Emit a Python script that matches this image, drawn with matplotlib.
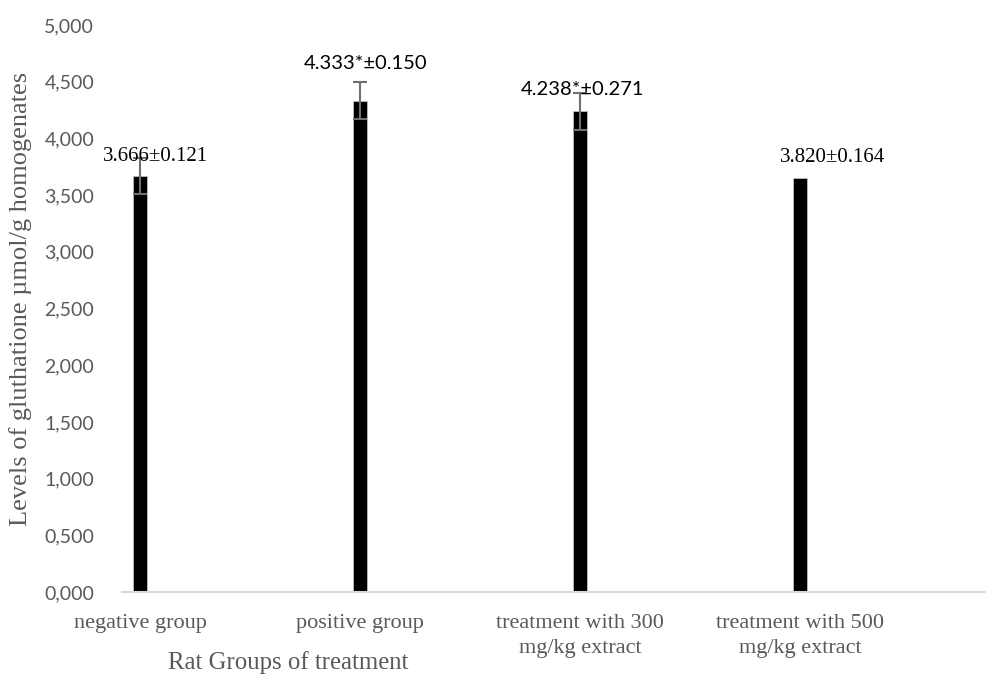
import matplotlib.pyplot as plt

# groups and readings
groups = ["negative group", "positive group",
          "treatment with 300\nmg/kg extract", "treatment with 500\nmg/kg extract"]
means = [3.666, 4.333, 4.238, 3.650]
errors = [0.16, 0.16, 0.165, 0.0]
labels = ["3.666\u00b10.121", "4.333*\u00b10.150", "4.238*\u00b10.271", "3.820\u00b10.164"]
yticks = [0.0, 0.5, 1.0, 1.5, 2.0, 2.5, 3.0, 3.5, 4.0, 4.5, 5.0]

fig = plt.figure(figsize=(9.87, 6.75), dpi=100)
ax = fig.add_axes([0.1236, 0.123, 0.8744, 0.84])

x = list(range(len(groups)))
ax.bar(x, means, width=0.064, color="black", edgecolor="#bfbfbf", linewidth=0.6, zorder=2)
ax.errorbar(x[:3], means[:3], yerr=errors[:3], fmt="none", ecolor="#707070",
            elinewidth=1.5, capsize=5, capthick=1.5, zorder=3)

# data labels: offsets in pixels, fonts as in the original
label_style = [
    (15, 20, "Liberation Serif", 15),
    (5, 37, "Lato", 14.5),
    (2, 22, "Lato", 14.5),
    (32, 21, "Liberation Serif", 15),
]
for i, (dx, dy, fam, sz) in enumerate(label_style):
    ax.annotate(labels[i], (x[i], means[i]), xytext=(dx, dy),
                textcoords="offset pixels", ha="center", va="center",
                fontfamily=fam, fontsize=sz, color="black")

ax.set_xlim(-0.082, 3.84)
ax.set_ylim(0, 5.0)
ax.set_yticks(yticks)
ax.set_yticklabels([f"{v:.3f}".replace(".", ",") for v in yticks],
                   fontfamily="Lato", fontsize=14, color="#595959")
ax.set_xticks(x)
ax.set_xticklabels(groups, fontfamily="Liberation Serif", fontsize=16,
                   color="#595959", linespacing=1.45, va="top")
ax.tick_params(axis="both", length=0)
ax.tick_params(axis="x", pad=16)
ax.tick_params(axis="y", pad=20)

for s in ["top", "right", "left"]:
    ax.spines[s].set_visible(False)
ax.spines["bottom"].set_color("#d9d9d9")
ax.spines["bottom"].set_linewidth(1.5)

fig.text(0.292, 0.018, "Rat Groups of treatment", ha="center", va="center",
         fontfamily="Liberation Serif", fontsize=17.8, color="#595959")
fig.text(0.021, 0.557, "Levels of gluthatione \u00b5mol/g homogenates", ha="center",
         va="center", rotation=90, fontfamily="Liberation Serif", fontsize=19,
         color="#595959")

fig.savefig("out.png", dpi=100)
